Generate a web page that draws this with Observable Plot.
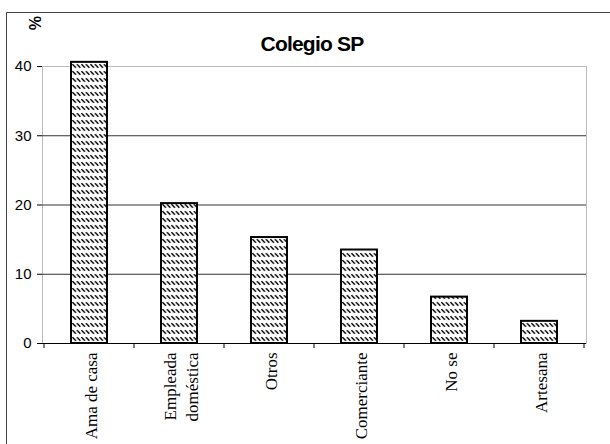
<!DOCTYPE html>
<html>
<head>
<meta charset="utf-8">
<script src="https://cdn.jsdelivr.net/npm/d3@7"></script>
<script src="https://cdn.jsdelivr.net/npm/@observablehq/plot@0.6"></script>
<style>
  html, body { margin: 0; padding: 0; background: white; }
  svg { display: block; }
</style>
</head>
<body>
<div id="chart"></div>
<script>
const title = "Colegio SP";
const unitLabel = "%";
const categories = ["Ama de casa", "Empleada\ndoméstica", "Otros", "Comerciante", "No se", "Artesana"];
const values = [40.6, 20.2, 15.3, 13.5, 6.7, 3.2];
const yTicks = [0, 10, 20, 30, 40];
const gridValues = [10, 20, 30];

const data = categories.map((c, i) => ({cat: c, value: values[i]}));

const plot = Plot.plot({
  width: 610,
  height: 444,
  marginLeft: 42,
  marginRight: 24,
  marginTop: 66,
  marginBottom: 101,
  style: {fontFamily: "'Liberation Sans', Arial, sans-serif", fontSize: "15px", color: "black", background: "white", overflow: "visible"},
  x: {domain: categories, paddingInner: 0.6, paddingOuter: 0.3, axis: null},
  y: {domain: [0, 40], ticks: yTicks, tickSize: 5, tickPadding: 6, label: null, line: true},
  marks: [
    Plot.frame({stroke: "#bbb", strokeWidth: 1}),
    Plot.ruleY(gridValues, {stroke: "#333", strokeWidth: 1}),
    Plot.barY(data, {x: "cat", y: "value", fill: "url(#hatch)", stroke: "black", strokeWidth: 2}),
    Plot.ruleY([0], {stroke: "black", strokeWidth: 1.2}),
    Plot.text(data, {
      x: "cat", text: "cat", frameAnchor: "bottom", dy: 9, rotate: -90,
      textAnchor: "end", lineAnchor: "middle", lineHeight: 1.3,
      fontFamily: "'Liberation Serif', 'Times New Roman', serif", fontSize: 17, fill: "black"
    })
  ]
});

document.getElementById("chart").appendChild(plot);

const svg = d3.select(plot);
const defs = svg.insert("defs", ":first-child");
const pat = defs.append("pattern")
  .attr("id", "hatch").attr("patternUnits", "userSpaceOnUse")
  .attr("width", 4.5).attr("height", 7);
pat.append("rect").attr("width", 4.5).attr("height", 7).attr("fill", "white");
pat.append("line").attr("x1", 0.4).attr("y1", 1.2).attr("x2", 3.9).attr("y2", 4.8)
  .attr("stroke", "black").attr("stroke-width", 1.5);

// x-axis boundary ticks from the band scale
const xs = plot.scale("x");
const ys = plot.scale("y");
const half = xs.step * xs.paddingInner / 2;
const bounds = categories.map(c => xs.apply(c) - half);
bounds.push(xs.apply(categories[categories.length - 1]) + xs.bandwidth + half);
const y0 = ys.apply(0);
svg.append("g").selectAll("line").data(bounds).join("line")
  .attr("x1", d => d).attr("x2", d => d)
  .attr("y1", y0).attr("y2", y0 + 5)
  .attr("stroke", "black").attr("stroke-width", 1);

// outer chart frame
svg.append("path").attr("d", "M6.5,444 V12.5 H610")
  .attr("fill", "none").attr("stroke", "#444").attr("stroke-width", 1);

// title
svg.append("text").attr("x", 312).attr("y", 51)
  .attr("text-anchor", "middle")
  .style("font-family", "'Liberation Sans', Arial, sans-serif")
  .style("font-weight", "bold").style("font-size", "21px").style("letter-spacing", "-0.8px")
  .text(title);

// unit label
svg.append("text").attr("transform", "translate(29,23) rotate(90)")
  .attr("text-anchor", "middle")
  .style("font-family", "'Liberation Sans', Arial, sans-serif")
  .style("font-weight", "bold").style("font-size", "16px")
  .text(unitLabel);
</script>
</body>
</html>
